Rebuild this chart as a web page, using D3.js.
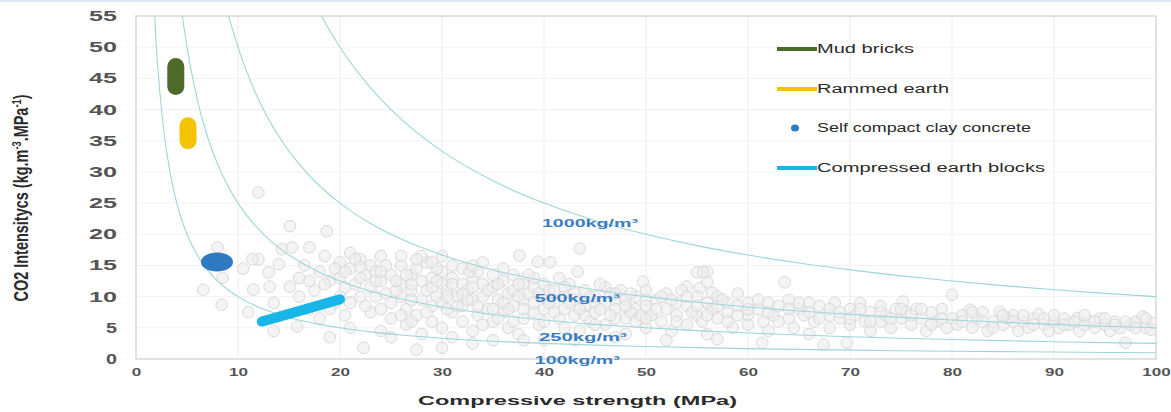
<!DOCTYPE html>
<html><head><meta charset="utf-8">
<script src="https://cdn.jsdelivr.net/npm/d3@7/dist/d3.min.js"></script>
<style>body{margin:0;background:#fff;}svg{display:block;}</style>
</head><body>
<svg id="chart" width="1171" height="412"></svg>
<script>
// ---------------- data ----------------
const xTicks = [0,10,20,30,40,50,60,70,80,90,100];
const yTicks = [0,5,10,15,20,25,30,35,40,45,50,55];
const densities = [100,250,500,1000];
const densityLabels = ["100kg/m³","250kg/m³","500kg/m³","1000kg/m³"];
const curveStrengths = [0.5,1,1.5,2,2.5,3,3.5,4,4.5,5,6,7,8,9,10,12,14,16,18,20,23,26,30,35,40,45,50,55,60,65,70,75,80,85,90,95,100];
const materials = ["Mud bricks","Rammed earth","Self compact clay concrete","Compressed earth blocks"];
const mudBricks = [[3.9,46.9],[3.9,43.7]];
const rammedEarth = [[5.1,37.4],[5.1,35.0]];
const selfCompact = [[7.94,15.55]];
const compressedBlocks = [[12.33,6.0],[20.0,9.56]];
const database = [
 [8,17.9],[6.6,11.1],[8.4,8.7],[8.5,13],[12,26.7],[12,16],[13,13.9],[11.5,11.1],[13.1,11.6],[15.1,11.6],
 [14.3,17.6],[15.3,17.9],[10.5,14.5],[11,7.5],[13.5,9],[14,15.2],[15.8,5.2],[15.1,21.3],[13.5,4.5],[11.4,16],
 [16,13],[16.5,15],[17,17.9],[17.5,11],[18,14],[18.5,16.5],[18.7,20.5],[19,12.5],[19.5,9],[20,15.5],
 [20,13],[20.5,11.5],[21,17],[21,14.5],[21.5,12],[22,16],[22,10],[22.5,13.5],[23,15],[23,11.5],
 [23,7.5],[23.5,14],[24,12.5],[24,16.5],[24.5,10.5],[25,13.5],[25,9],[25,6.5],[22.3,1.8],[19,3.5],
 [21,5],[17,8],[24,4.5],[20.5,7],[18,6.5],[27.5,1.5],[30,1.8],
 [26,15],[26,12],[26,10],[26.5,8],[26.5,5.5],[27,13.5],[27,11],[27.5,14.5],[27.5,7],[28,12.5],
 [28,9.5],[28,4],[28.5,15.5],[28.5,11],[29,13],[29,8.5],[29,6],[29.5,10],[30,14],[30,12],
 [30,9],[30,5],[30.5,11],[31,13],[31,7.5],[31,3.5],[31.5,10],[32,12],[32,14.5],[32,8.5],
 [32,6],[32.5,11],[33,13],[33,9.5],[33,4.5],[33.5,7],[34,12],[34,10],[34,15.5],[34.5,8],
 [35,11.5],[35,13.5],[35,6],[35,3],[35.5,9.5],[36,12.5],[36,7.5],[36.5,10.5],[36.5,5],[37,11],
 [37,13.5],[37,8.5],[37.5,4],[38,12],[38,9.5],[38,6.5],[38.5,10.5],[39,11.5],[39,7.5],[39,13],
 [39.5,5.5],[40,10],[40,8],[40,12],[40,3],
 [20.5,14],[21.5,16],[22,13],[23.5,12.5],[24.5,15],[25.5,11],[26.5,13.5],[27,9.5],[28,16.5],[29,11.5],
 [29.5,14.5],[30.5,8],[31,12],[32.5,9.5],[33.5,14],[34,5.5],[35.5,12],[36,9],[37,6],[38.5,13.5],
 [39,9],[40.5,11],[41.5,13],[42,5],[43,10.5],[44,7],[45,9],[46,11.5],[47,9.5],[48,6.5],
 [49,8],[50,9.5],[36,14.5],[27,6],[25,3.5],[33,2.5],[38,3],[43,3],[47,3.5],[52,3],[57,3.2],
 [43.5,17.7],[37.6,16.6],[39.4,15.6],[40.6,15.5],[43.3,14],[32.7,14],[49.7,12.4],[55,13.9],[56,14],[55.3,11.4],
 [56.5,10.6],[54,11.6],
 [41,9],[41,11],[41.5,6.5],[42,10],[42,8],[42.5,12],[43,7],[43,9.5],[43.5,4.5],[44,11],
 [44,8.5],[44.5,6],[45,10],[45,7.5],[45.5,12],[46,9],[46,5.5],[46.5,10.5],[47,8],[47,6.5],
 [47.5,11],[48,9.5],[48,4],[48.5,7.5],[49,10],[49,6],[50,8.5],[50,11],[50,5],[50.5,7],
 [51,9.5],[51.5,6],[52,10.5],[52,8],[52.5,4.5],[53,9],[53,7],[53.5,11],[54,8.5],[54,5.5],
 [55,10],[55,7],[55.5,6],[56,9],[56,4],[56.5,8],[57,10],[57,6.5],[58,9],[58,7.5],
 [58.5,5],[59,8.5],[59,10.5],[60,7],[60,9],[60,5.5],[56,12.3],[55.6,13.9],
 [61,8],[61.5,6],[62,9],[62,4.5],[62.5,7],[63,8.5],[63.6,12.3],[64,6.5],[64,9.5],[64.5,5],
 [65,8],[65.5,7],[66,9],[66,4],[66.5,6],[67,8.5],[67.4,2.3],[68,7],[68,5],[68.5,9],
 [69,6.5],[69.7,2.6],[70,8],[70,5.5],[70.5,7],[71,9],[71.5,6],[72,7.5],[72,4.5],[73,8.5],
 [73,6],[73.5,7],[74,5],[74.5,8],[75,6.5],[75.2,9.2],[75.5,7.5],[76,5.5],[76.5,8],[77,6.5],
 [77.5,4.5],[78,7.5],[78.5,6],[79,8],[79.5,5],[80,6.5],[80,10.3],[61.4,2.6],
 [80.5,5.5],[81,7],[81.8,7.9],[82,5],[82.5,6.5],[83,7.5],[83.5,4.5],[84,6],[84.7,7.6],[85,5.5],
 [85.5,6.5],[86,7],[86.5,4.5],[87,6],[87.5,5],[88,6.5],[88.5,7.2],[89,5.5],[89.5,4.5],[90,6],
 [90.5,5],[91,6.5],[91.5,5.5],[92.3,6.6],[92.5,4.5],[93,5.5],[93.5,6],[94,5],[94.5,6.5],[95,5.5],
 [95.5,4.5],[96,6],[96.5,5],[97,2.6],[97.5,5.5],[98,6],[98.7,6.8],[99,5],[99.5,4.7],[99.8,5.8],
 [21,9],[22.5,8.5],[23.5,10],[24,8],[25.5,12.5],[26,7],[27,12],[28.5,7.5],[29.5,12.5],[30.5,10],
 [31.5,8.5],[32,10.5],[33,11.5],[33.5,8.5],[34.5,11],[35,8],[35.5,6.5],[36.5,8],[37.5,10],[37.5,12],
 [38,8],[39.5,10.5],[40,6],[40.5,9],[41,7.5],[42,11.5],[42.5,9],[43.5,8],[44.5,10],[45,5.5],
 [45.5,8],[46.5,7],[47,10.5],[48,8.5],[48.5,10.5],[49.5,7],[50,6.5],[51,8],[51.5,10],[52.5,9.5],
 [53,6],[54,10],[54.5,7.5],[55,8.5],[56,7],[57,8.5],[57.5,9.5],[58,6],[59,7],[60,8],
 [61,9.5],[62,7.5],[63,6],[64,8],[65,9],[66,7.5],[67,6.5],[68,8],[69,7.5],[70,6.5],
 [71,8],[72,6],[73,7.5],[74,6.5],[75,8],[76,7],[77,8],[78,5.5],[79,6.5],[81,6],
 [82,7.5],[83,6],[84,5],[85,7],[86,6],[87,7],[88,5.5],[89,6.5],[90,7],[91,5.5],
 [92,6],[93,7],[94,6],[95,6.5],[96,5.5],[97,6],[98,5],[99,6.5],
 [26,16.5],[27.5,16],[29,15.5],[31,15],[33,15],[30,16.5],[24,14],[22,14.8],[19.5,14.5],[18.5,12],
 [17,12.5],[16,10],[20,10],[19,8]
];

// ---------------- layout ----------------
const svg = d3.select("#chart");
const M = {left:136, right:1156, top:16, bottom:359};
const x = d3.scaleLinear().domain([0,100]).range([M.left, M.right]);
const y = d3.scaleLinear().domain([0,55]).range([M.bottom, M.top]);
const FONT = "'Liberation Sans', Arial, sans-serif";

svg.append("rect").attr("x",0).attr("y",0).attr("width",1171).attr("height",2).attr("fill","#dce7f3");

svg.append("defs").append("clipPath").attr("id","plot")
  .append("rect").attr("x",M.left).attr("y",M.top).attr("width",M.right-M.left).attr("height",M.bottom-M.top);

// grid
const grid = svg.append("g");
grid.selectAll("line.v").data(xTicks.slice(1,-1)).join("line")
  .attr("x1",d=>x(d)).attr("x2",d=>x(d)).attr("y1",M.top).attr("y2",M.bottom)
  .attr("stroke","#ececec").attr("stroke-width",1);
grid.selectAll("line.h").data(yTicks.slice(1,-1)).join("line")
  .attr("y1",d=>y(d)).attr("y2",d=>y(d)).attr("x1",M.left).attr("x2",M.right)
  .attr("stroke","#f2f2f2").attr("stroke-width",1);

// frame
svg.append("rect").attr("x",M.left).attr("y",M.top).attr("width",M.right-M.left).attr("height",M.bottom-M.top)
  .attr("fill","none").attr("stroke","#d8d8d8").attr("stroke-width",1.5);

// scatter
const plot = svg.append("g").attr("clip-path","url(#plot)");
plot.selectAll("circle.db").data(database).join("circle")
  .attr("cx",d=>x(d[0])).attr("cy",d=>y(d[1])).attr("r",5.8)
  .attr("fill","#ececec").attr("fill-opacity",0.6).attr("stroke","#d9d9d9").attr("stroke-width",1);

// iso-density curves
const line = d3.line().x(d=>x(d[0])).y(d=>y(d[1])).curve(d3.curveMonotoneX);
plot.selectAll("path.iso").data(densities).join("path")
  .attr("d",k=>line(curveStrengths.filter(s=>k/s<80).map(s=>[s,k/s])))
  .attr("fill","none").attr("stroke","#9dd6d8").attr("stroke-width",1.1);

// curve labels
const labelAt = {100:[39.1,-0.2],250:[39.5,3.5],500:[39.1,9.8],1000:[39.8,21.8]};
const labelLen = {100:85,250:88,500:85,1000:96};
svg.selectAll("text.iso").data(densities).join("text")
  .attr("x",k=>x(labelAt[k][0])).attr("y",k=>y(labelAt[k][1])).attr("dy","0.35em")
  .attr("font-family",FONT).attr("font-weight","bold").attr("font-size",10.5)
  .attr("fill","#3a7cc2").attr("textLength",k=>labelLen[k]).attr("lengthAdjust","spacingAndGlyphs")
  .text((k,i)=>densityLabels[i]);

// materials
const mline = d3.line().x(d=>x(d[0])).y(d=>y(d[1]));
svg.append("path").attr("d",mline(mudBricks)).attr("stroke","#4d6a2b").attr("stroke-width",17)
  .attr("stroke-linecap","round").attr("fill","none");
svg.append("path").attr("d",mline(rammedEarth)).attr("stroke","#f5c400").attr("stroke-width",17)
  .attr("stroke-linecap","round").attr("fill","none");
svg.selectAll("ellipse.scc").data(selfCompact).join("ellipse")
  .attr("cx",d=>x(d[0])).attr("cy",d=>y(d[1])).attr("rx",16).attr("ry",9.5).attr("fill","#2e7bc1");
svg.append("path").attr("d",mline(compressedBlocks)).attr("stroke","#18b6e8").attr("stroke-width",10)
  .attr("stroke-linecap","round").attr("fill","none");

// axes
const yAxis = svg.append("g").attr("transform",`translate(${M.left},0)`)
  .call(d3.axisLeft(y).tickValues(yTicks).tickSize(0).tickPadding(19));
yAxis.select(".domain").remove();
yAxis.selectAll("text").attr("font-family",FONT).attr("font-weight","bold").attr("font-size",14)
  .attr("fill","#555")
  .attr("textLength",d=>String(d).length===1?11:28).attr("lengthAdjust","spacingAndGlyphs");

const xAxis = svg.append("g").attr("transform",`translate(0,${M.bottom})`)
  .call(d3.axisBottom(x).tickValues(xTicks).tickSize(0).tickPadding(9));
xAxis.select(".domain").remove();
xAxis.selectAll("text").attr("font-family",FONT).attr("font-weight","bold").attr("font-size",11)
  .attr("fill","#555")
  .attr("textLength",d=>String(d).length*9.5).attr("lengthAdjust","spacingAndGlyphs");

// axis titles
svg.append("text").attr("x",(418+737)/2).attr("y",405).attr("text-anchor","middle")
  .attr("font-family",FONT).attr("font-weight","bold").attr("font-size",13).attr("fill","#2b2b2b")
  .attr("textLength",319).attr("lengthAdjust","spacingAndGlyphs")
  .text("Compressive strength (MPa)");

const yt = svg.append("text").attr("transform","translate(28,198) scale(1.45,1) rotate(-90)").attr("text-anchor","middle")
  .attr("font-family","'Liberation Sans Narrow', 'Liberation Sans', sans-serif").attr("font-weight","bold")
  .attr("font-size",14).attr("fill","#2b2b2b")
  .attr("textLength",207).attr("lengthAdjust","spacingAndGlyphs");
yt.append("tspan").text("CO2  Intensitycs (kg.m");
yt.append("tspan").attr("baseline-shift","super").attr("font-size",9).text("-3");
yt.append("tspan").text(".MPa");
yt.append("tspan").attr("baseline-shift","super").attr("font-size",9).text("-1");
yt.append("tspan").text(")");

// legend
const legY = [49,89,128,168];
const legColors = ["#4d6a2b","#f5c400","#2e7bc1","#18b6e8"];
const legLen = [97,132,214,228];
const leg = svg.append("g");
materials.forEach((m,i)=>{
  if(i===2){
    leg.append("ellipse").attr("cx",795).attr("cy",legY[i]).attr("rx",4).attr("ry",3.5).attr("fill",legColors[i]);
  } else {
    leg.append("line").attr("x1",777).attr("x2",817).attr("y1",legY[i]).attr("y2",legY[i])
      .attr("stroke",legColors[i]).attr("stroke-width",4);
  }
  leg.append("text").attr("x",817).attr("y",legY[i]).attr("dy","0.35em")
    .attr("font-family",FONT).attr("font-size",12).attr("fill","#2a2a2a")
    .attr("textLength",legLen[i]).attr("lengthAdjust","spacingAndGlyphs").text(m);
});
</script>
</body></html>
